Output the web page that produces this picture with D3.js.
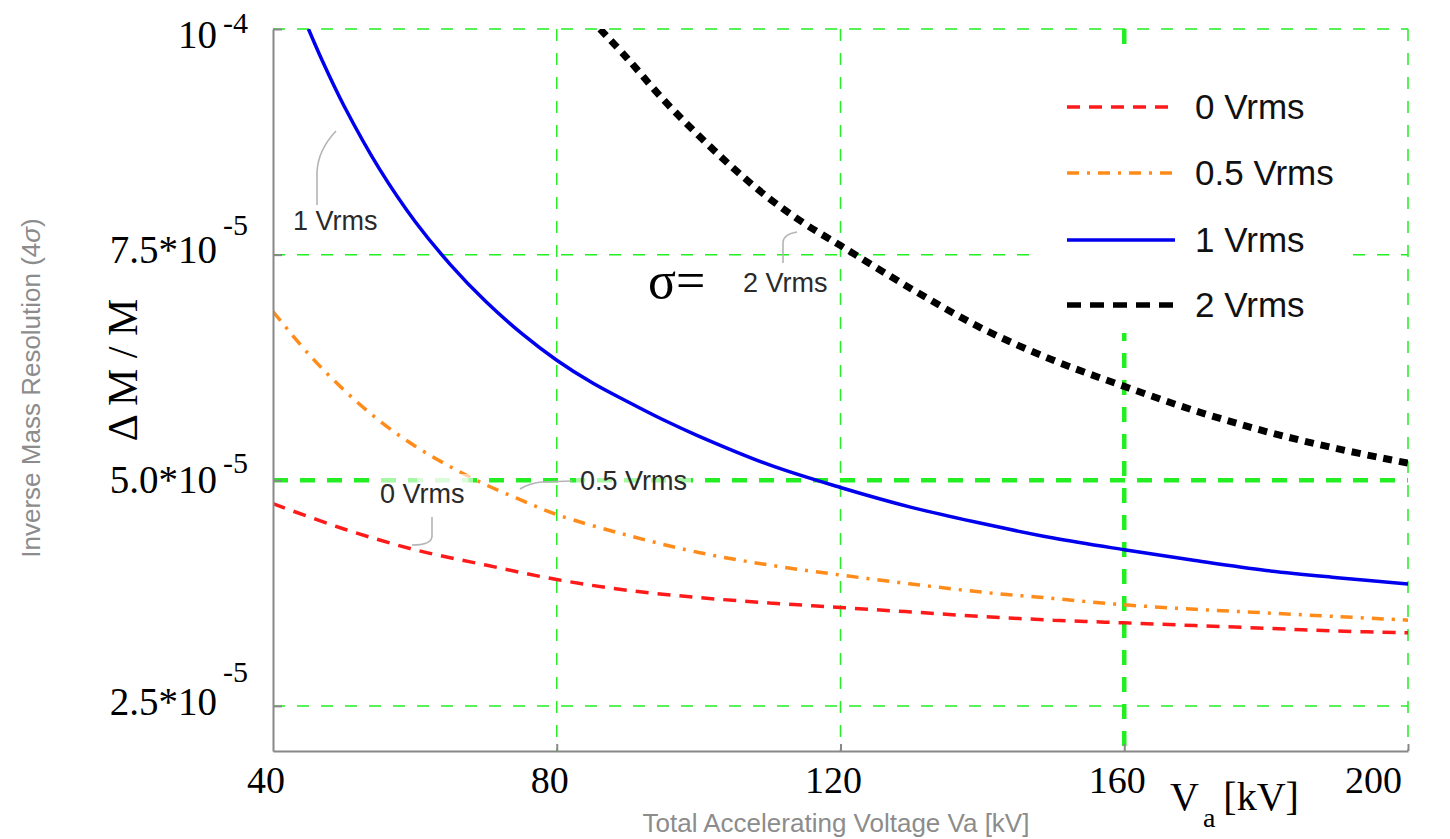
<!DOCTYPE html>
<html>
<head>
<meta charset="utf-8">
<script src="https://cdn.jsdelivr.net/npm/d3@7"></script>
<style>
  body { margin: 0; background: #fff; }
  svg { display: block; }
</style>
</head>
<body>
<svg id="chart" width="1450" height="839"></svg>
<script>
// values, resolution in units of 1e-5
const kv0 = [40, 50, 60, 70, 80, 90, 100, 110, 120, 130, 140, 150, 160, 170, 180, 190, 200];
const res0 = [4.74, 4.46, 4.23, 4.06, 3.90, 3.78, 3.70, 3.64, 3.59, 3.54, 3.49, 3.45, 3.42, 3.39, 3.36, 3.33, 3.31];

const kv05 = [40, 45, 50, 55, 60, 65, 70, 75, 80, 90, 100, 110, 120, 130, 140, 150, 160, 170, 180, 190, 200];
const res05 = [6.87, 6.40, 6.00, 5.66, 5.38, 5.15, 4.95, 4.78, 4.62, 4.39, 4.20, 4.06, 3.95, 3.85, 3.76, 3.69, 3.62, 3.57, 3.53, 3.49, 3.45];

const kv1 = [45, 47, 50, 55, 60, 65, 70, 75, 80, 85, 90, 95, 100, 110, 120, 130, 140, 150, 160, 170, 180, 190, 200];
const res1 = [10.0, 9.64, 9.15, 8.45, 7.87, 7.39, 6.98, 6.63, 6.33, 6.08, 5.87, 5.67, 5.49, 5.17, 4.92, 4.70, 4.52, 4.36, 4.23, 4.11, 4.00, 3.92, 3.85];

const kv2 = [86.1, 90, 95, 100, 105, 110, 115, 120, 130, 140, 150, 160, 170, 180, 190, 200];
const res2 = [10.0, 9.67, 9.22, 8.82, 8.45, 8.12, 7.84, 7.60, 7.12, 6.68, 6.33, 6.04, 5.77, 5.54, 5.35, 5.19];

const seriesNames = ['0 Vrms', '0.5 Vrms', '1 Vrms', '2 Vrms'];
const xTicks = [40, 80, 120, 160, 200];
const yTicks = [2.5, 5.0, 7.5, 10];
const yTickText = ['2.5*10', '5.0*10', '7.5*10', '10'];
const yTickExp = ['-5', '-5', '-5', '-4'];

const svg = d3.select('#chart');
const x = d3.scaleLinear().domain([40, 200]).range([273, 1408]);
const y = d3.scaleLinear().domain([2, 10]).range([751, 29]);

const GREEN = '#22ee22';
const serif = '"Liberation Serif", "Times New Roman", serif';
const sans = '"Liberation Sans", Arial, sans-serif';

// grid
const grid = svg.append('g');
yTicks.forEach(t => {
  grid.append('line')
    .attr('x1', x(40)).attr('x2', x(200))
    .attr('y1', y(t)).attr('y2', y(t))
    .attr('stroke', GREEN)
    .attr('stroke-width', t === 5 ? 4.5 : 1.5)
    .attr('stroke-dasharray', t === 5 ? '15,12' : '12,12');
});
xTicks.slice(1).forEach(t => {
  grid.append('line')
    .attr('x1', x(t)).attr('x2', x(t))
    .attr('y1', y(10)).attr('y2', y(2))
    .attr('stroke', GREEN)
    .attr('stroke-width', t === 160 ? 4.5 : 1.5)
    .attr('stroke-dasharray', t === 160 ? '15,12' : '12,12');
});

// legend background hides the grid
svg.append('rect')
  .attr('x', 1040).attr('y', 50).attr('width', 305).attr('height', 283)
  .attr('fill', '#fff');

const styles = [
  { color: '#ff1a1a', width: 3.5, dash: '13,9' },
  { color: '#ff8c1a', width: 3.5, dash: '12,8,3,8' },
  { color: '#0000ee', width: 3.5, dash: null },
  { color: '#000000', width: 7, dash: '9,7' }
];
const data = [
  d3.zip(kv0, res0),
  d3.zip(kv05, res05),
  d3.zip(kv1, res1),
  d3.zip(kv2, res2)
];

svg.append('clipPath').attr('id', 'plotclip')
  .append('rect').attr('x', 273).attr('y', 29).attr('width', 1135).attr('height', 722);

const line = d3.line()
  .x(d => x(d[0]))
  .y(d => y(d[1]))
  .curve(d3.curveCatmullRom.alpha(0.5));

svg.append('g').attr('clip-path', 'url(#plotclip)')
  .selectAll('path')
  .data(data)
  .join('path')
  .attr('d', line)
  .attr('fill', 'none')
  .attr('stroke', (d, i) => styles[i].color)
  .attr('stroke-width', (d, i) => styles[i].width)
  .attr('stroke-dasharray', (d, i) => styles[i].dash);

// legend
const legend = svg.append('g');
const legendY = [107, 173, 240, 305];
seriesNames.forEach((name, i) => {
  legend.append('line')
    .attr('x1', 1067).attr('x2', 1175)
    .attr('y1', legendY[i]).attr('y2', legendY[i])
    .attr('stroke', styles[i].color)
    .attr('stroke-width', i === 3 ? 5.5 : 3.5)
    .attr('stroke-dasharray', i === 3 ? '14,9' : styles[i].dash);
  legend.append('text')
    .attr('x', 1195).attr('y', legendY[i] + 12)
    .attr('font-family', sans).attr('font-size', 35)
    .attr('fill', '#111')
    .text(name);
});

// curve labels with leader lines
const labels = [
  { text: '1 Vrms', x: 293, y: 230, leader: 'M317,205 L317,172 Q318,150 336,131' },
  { text: '0 Vrms', x: 380, y: 503, leader: 'M432,517 L432,536 Q432,545 412,545' },
  { text: '0.5 Vrms', x: 580, y: 490, leader: 'M572,481 L542,482 Q530,483 520,489' },
  { text: '2 Vrms', x: 743, y: 292, leader: 'M783,263 L783,242 Q784,234 797,232' }
];
svg.append('rect').attr('x', 417).attr('y', 474).attr('width', 56).attr('height', 12)
  .attr('fill', '#fff').attr('opacity', 0.6);
labels.forEach(l => {
  const g = svg.append('g');
  const t = g.append('text')
    .attr('x', l.x).attr('y', l.y)
    .attr('font-family', sans).attr('font-size', 27)
    .attr('fill', '#2a2a2a')
    .text(l.text);
  const bb = t.node().getBBox();
  g.insert('rect', 'text')
    .attr('x', bb.x - 4).attr('y', bb.y - 2)
    .attr('width', bb.width + 8).attr('height', bb.height + 4)
    .attr('fill', '#fff').attr('opacity', 0.6);
  svg.append('path').attr('d', l.leader)
    .attr('fill', 'none').attr('stroke', '#b4b4b4').attr('stroke-width', 1.6);
});

// axes
const axisLeft = svg.append('g').attr('transform', `translate(${x(40)},0)`)
  .call(d3.axisLeft(y).tickValues(yTicks).tickSize(-9).tickSizeOuter(0).tickFormat(''));
const axisBottom = svg.append('g').attr('transform', `translate(0,${y(2)})`)
  .call(d3.axisBottom(x).tickValues(xTicks.slice(1)).tickSize(-7).tickSizeOuter(0).tickFormat(''));
[axisLeft, axisBottom].forEach(a => {
  a.selectAll('path, line').attr('stroke', '#888').attr('stroke-width', 2);
});

// tick labels
xTicks.forEach((t, i) => {
  const last = i === xTicks.length - 1;
  svg.append('text')
    .attr('x', last ? x(t) - 6 : x(t) - 7)
    .attr('y', 793)
    .attr('text-anchor', last ? 'end' : 'middle')
    .attr('font-family', serif).attr('font-size', 38)
    .attr('fill', '#000')
    .text(t);
});
const mainDy = [9, 13, 8, 19];
const supRise = [-33, -20, -28, -15];
yTicks.forEach((t, i) => {
  const txt = svg.append('text')
    .attr('x', 248).attr('y', y(t) + mainDy[i])
    .attr('text-anchor', 'end')
    .attr('font-family', serif).attr('fill', '#000');
  txt.append('tspan').attr('font-size', 39).text(yTickText[i]);
  txt.append('tspan').attr('font-size', 30).attr('dx', 6).attr('dy', supRise[i]).text(yTickExp[i]);
});

// axis titles
svg.append('text')
  .attr('x', 836).attr('y', 832)
  .attr('text-anchor', 'middle')
  .attr('font-family', sans).attr('font-size', 26)
  .attr('fill', '#8c8c8c')
  .text('Total Accelerating Voltage Va [kV]');

const leftTitle = svg.append('text')
  .attr('transform', 'translate(40,388) rotate(-90)')
  .attr('text-anchor', 'middle')
  .attr('font-family', sans).attr('font-size', 26)
  .attr('fill', '#8c8c8c');
leftTitle.append('tspan').text('Inverse Mass Resolution (4');
leftTitle.append('tspan').attr('font-style', 'italic').text('σ');
leftTitle.append('tspan').text(')');

svg.append('text')
  .attr('transform', 'translate(137,370) rotate(-90)')
  .attr('text-anchor', 'middle')
  .attr('font-family', serif).attr('font-size', 42)
  .attr('fill', '#000')
  .text('Δ M / M');

const va = svg.append('text')
  .attr('x', 1170).attr('y', 810)
  .attr('font-family', serif).attr('fill', '#000');
va.append('tspan').attr('font-size', 40).text('V');
va.append('tspan').attr('font-size', 28).attr('dx', 4).attr('dy', 17).text('a');
va.append('tspan').attr('font-size', 40).attr('dx', 8).attr('dy', -17).text('[kV]');

svg.append('text')
  .attr('x', 648).attr('y', 298)
  .attr('font-family', serif).attr('font-size', 52)
  .attr('fill', '#000')
  .text('σ=');
</script>
</body>
</html>
